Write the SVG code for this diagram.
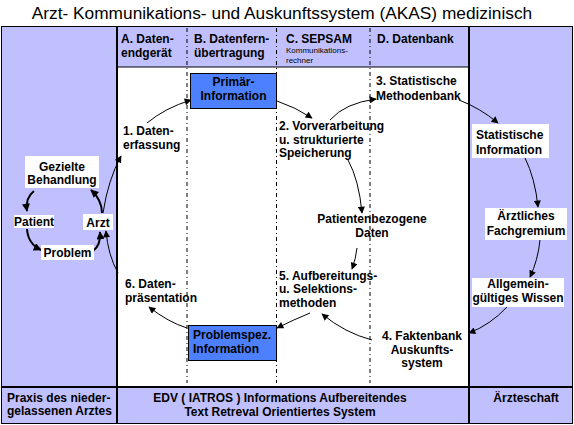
<svg xmlns="http://www.w3.org/2000/svg" width="574" height="425" viewBox="0 0 574 425">
<defs>
<style>
.t{font-family:"Liberation Sans",Arial,sans-serif;font-weight:bold;font-size:12px;fill:#000}
.c{text-anchor:middle}
.s{font-family:"Liberation Sans",Arial,sans-serif;font-size:8px;fill:#000}
.lab{fill:#fff;stroke:none}
.blue{fill:#4d80ff;stroke:#000;stroke-width:1}
.thin{fill:none;stroke:#000;stroke-width:1;marker-end:url(#ah)}
.thick{fill:none;stroke:#000;stroke-width:2;marker-end:url(#ahb)}
.dash{stroke:#000;stroke-width:1;stroke-dasharray:4 3 1 3}
</style>
<marker id="ah" viewBox="0 0 10 10" refX="9" refY="5" markerUnits="userSpaceOnUse" markerWidth="10" markerHeight="7" orient="auto"><path d="M0,0 L10,5 L0,10 z" fill="#000"/></marker>
<marker id="ahb" viewBox="0 0 10 10" refX="9" refY="5" markerUnits="userSpaceOnUse" markerWidth="10" markerHeight="8" orient="auto"><path d="M0,0 L10,5 L0,10 z" fill="#000"/></marker>
</defs>
<rect width="574" height="425" fill="#fff"/>
<text x="282" y="19" style="font-family:'Liberation Sans',Arial,sans-serif;font-size:17.3px" text-anchor="middle">Arzt- Kommunikations- und Auskunftssystem (AKAS) medizinisch</text>
<g id="frame">
<rect x="1.5" y="26.5" width="571" height="397" fill="#c0c0ff" stroke="#000" stroke-width="1"/>
<rect x="117" y="67" width="352" height="320" fill="#fff" stroke="#000" stroke-width="1"/>
<line x1="117" y1="26" x2="117" y2="424" stroke="#000" stroke-width="2"/>
<line x1="469" y1="26" x2="469" y2="424" stroke="#000" stroke-width="2"/>
<line x1="1" y1="387" x2="573" y2="387" stroke="#000" stroke-width="2"/>
<line class="dash" x1="187" y1="28" x2="187" y2="383"/>
<line class="dash" x1="276.5" y1="28" x2="276.5" y2="383"/>
<line class="dash" x1="370" y1="28" x2="370" y2="383"/>
</g>
<g id="header">
<text class="t" x="121" y="43">A. Daten-</text>
<text class="t" x="121" y="57">endgerät</text>
<text class="t" x="194" y="43">B. Datenfern-</text>
<text class="t" x="194" y="57">übertragung</text>
<text class="t" x="286" y="43">C. SEPSAM</text>
<text class="s" x="286" y="53">Kommunikations-</text>
<text class="s" x="286" y="63">rechner</text>
<text class="t" x="377" y="43">D. Datenbank</text>
</g>
<g id="connectors">
<path class="thin" d="M103,213 Q108,180 121,156"/>
<path class="thin" d="M147,123 Q165,108 191,100"/>
<path class="thin" d="M277,101 Q295,107 312,118"/>
<path class="thin" d="M330,120 Q345,103 376,99"/>
<path class="thin" d="M348,160 Q359,180 362,213"/>
<path class="thin" d="M357,248 Q356,258 352,269"/>
<path class="thin" d="M310,313 Q293,320 277,328"/>
<path class="thin" d="M372,340 Q345,333 322,314"/>
<path class="thin" d="M187,328 Q168,322 149,307"/>
<path class="thin" d="M118,273 Q108,255 106,231"/>
<path class="thin" d="M459,100 Q480,108 498,123"/>
<path class="thin" d="M525,158 Q535,178 538,207"/>
<path class="thin" d="M540,240 Q538,260 530,277"/>
<path class="thin" d="M507,307 Q490,325 469,333"/>
<path class="thick" d="M34,191 Q25,198 27,211"/>
<path class="thick" d="M27,229 Q28,244 41,250"/>
<path class="thick" d="M93,251 Q101,245 100,232"/>
<path class="thick" d="M102,213 Q102,200 91,190"/>
</g>
<g id="n-gezielte">
<rect class="lab" x="25" y="156" width="74" height="32"/>
<text class="t c" x="62" y="171">Gezielte</text>
<text class="t c" x="62" y="184">Behandlung</text>
</g>
<g id="n-patient">
<rect class="lab" x="14" y="215" width="40" height="13"/>
<text class="t c" x="34" y="226">Patient</text>
</g>
<g id="n-arzt">
<rect class="lab" x="83" y="214" width="30" height="16"/>
<text class="t c" x="98" y="227">Arzt</text>
</g>
<g id="n-problem">
<rect class="lab" x="41" y="245" width="53" height="15"/>
<text class="t c" x="67.5" y="257">Problem</text>
</g>
<g id="n-datenerfassung">
<text class="t" x="123" y="135">1. Daten-</text>
<text class="t" x="123" y="149">erfassung</text>
</g>
<g id="n-primaer">
<rect class="blue" x="190.5" y="73.5" width="86" height="35"/>
<text class="t c" x="233.5" y="86">Primär-</text>
<text class="t c" x="233.5" y="100">Information</text>
</g>
<g id="n-vorverarbeitung">
<text class="t" x="279" y="130">2. Vorverarbeitung</text>
<text class="t" x="279" y="144">u. strukturierte</text>
<text class="t" x="279" y="157">Speicherung</text>
</g>
<g id="n-methodenbank">
<text class="t" x="376" y="85">3. Statistische</text>
<text class="t" x="376" y="100">Methodenbank</text>
</g>
<g id="n-patientendaten">
<text class="t c" x="372" y="223">Patientenbezogene</text>
<text class="t c" x="372" y="237">Daten</text>
</g>
<g id="n-aufbereitung">
<text class="t" x="279" y="280">5. Aufbereitungs-</text>
<text class="t" x="279" y="293">u. Selektions-</text>
<text class="t" x="279" y="307">methoden</text>
</g>
<g id="n-problemspez">
<rect class="blue" x="188.5" y="325.5" width="88" height="35"/>
<text class="t" x="193" y="339">Problemspez.</text>
<text class="t" x="193" y="353">Information</text>
</g>
<g id="n-datenpraesentation">
<text class="t" x="125" y="288">6. Daten-</text>
<text class="t" x="125" y="302">präsentation</text>
</g>
<g id="n-faktenbank">
<text class="t c" x="422" y="340">4. Faktenbank</text>
<text class="t c" x="422" y="354">Auskunfts-</text>
<text class="t c" x="422" y="367">system</text>
</g>
<g id="n-statinfo">
<rect class="lab" x="472" y="124" width="77" height="34"/>
<text class="t" x="476" y="139">Statistische</text>
<text class="t" x="476" y="154">Information</text>
</g>
<g id="n-fachgremium">
<rect class="lab" x="485" y="208" width="82" height="32"/>
<text class="t c" x="526" y="220">Ärztliches</text>
<text class="t c" x="526" y="235">Fachgremium</text>
</g>
<g id="n-wissen">
<rect class="lab" x="472" y="278" width="92" height="29"/>
<text class="t c" x="518" y="288">Allgemein-</text>
<text class="t c" x="518" y="302">gültiges Wissen</text>
</g>
<g id="footer">
<text class="t" x="7" y="402">Praxis des nieder-</text>
<text class="t" x="7" y="415">gelassenen Arztes</text>
<text class="t c" x="280" y="402">EDV ( IATROS ) Informations Aufbereitendes</text>
<text class="t c" x="280" y="416">Text Retreval Orientiertes System</text>
<text class="t c" x="526" y="402">Ärzteschaft</text>
</g>
</svg>
